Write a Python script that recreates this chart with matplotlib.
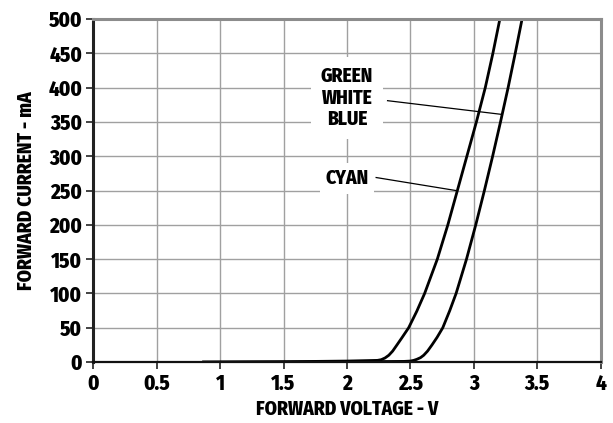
import matplotlib
matplotlib.use("Agg")
import matplotlib.pyplot as plt

plt.rcParams['font.family'] = ['Fira Sans Condensed', 'PT Sans Narrow', 'Roboto Condensed',
                               'Liberation Sans Narrow', 'DejaVu Sans']
plt.rcParams['font.weight'] = 'heavy'

# curves
cyan_v = [0.87, 1.5, 2.0, 2.24, 2.27, 2.30, 2.33, 2.36, 2.394, 2.435, 2.486, 2.55, 2.612, 2.712,
          2.795, 2.87, 2.945, 3.02, 3.09, 3.15, 3.205]
cyan_i = [0, 0.5, 1.5, 2.5, 3.5, 6, 10, 16, 25, 36, 50, 74, 100, 150,
          200, 250, 300, 350, 400, 450, 500]
gwb_v = [0.87, 2.0, 2.45, 2.50, 2.526, 2.55, 2.58, 2.605, 2.635, 2.67, 2.71, 2.755, 2.81, 2.86,
         2.942, 3.015, 3.083, 3.148, 3.21, 3.27, 3.326, 3.38]
gwb_i = [0, 0.5, 1, 1.5, 2.5, 4, 6.5, 10, 16, 25, 36, 50, 75, 100,
         150, 200, 250, 300, 350, 400, 450, 500]

x_ticks = [0, 0.5, 1, 1.5, 2, 2.5, 3, 3.5, 4]
x_labels = ['0', '0.5', '1', '1.5', '2', '2.5', '3', '3.5', '4']
y_ticks = list(range(0, 501, 50))

fig = plt.figure(figsize=(6.13, 4.23), dpi=100)
ax = fig.add_axes([0.152, 0.144, 0.828, 0.811])

ax.plot(cyan_v, cyan_i, color='black', lw=2.0, solid_joinstyle='round')
ax.plot(gwb_v, gwb_i, color='black', lw=2.0, solid_joinstyle='round')

ax.set_xlim(0, 4)
ax.set_ylim(0, 500)
ax.set_xticks(x_ticks)
ax.set_xticklabels(x_labels)
ax.set_yticks(y_ticks)
ax.grid(True, color='#a0a0a0', lw=1.0)
ax.set_axisbelow(True)

for side in ['top', 'right']:
    ax.spines[side].set_color('#8c8c8c')
    ax.spines[side].set_linewidth(2.2)
ax.spines['left'].set_color('#222222')
ax.spines['left'].set_linewidth(2.2)
ax.spines['bottom'].set_color('#111111')
ax.spines['bottom'].set_linewidth(1.6)

ax.tick_params(axis='both', direction='out', length=5, width=1.2, color='#222222',
               labelsize=15, pad=3)
for lbl in ax.get_xticklabels() + ax.get_yticklabels():
    lbl.set_fontweight('heavy')

ax.set_xlabel('FORWARD VOLTAGE - V', fontsize=14, fontweight='heavy', labelpad=4)
ax.set_ylabel('FORWARD CURRENT - mA', fontsize=14, fontweight='heavy', labelpad=9)

# labels with leader lines
ax.plot([2.32, 3.22], [381, 361], color='black', lw=0.9)
ax.plot([2.23, 2.86], [269, 250], color='black', lw=0.9)
ax.text(2.0, 385, 'GREEN\nWHITE\nBLUE', ha='center', va='center', fontsize=14,
        fontweight='heavy', linespacing=1.15,
        bbox=dict(facecolor='white', edgecolor='none', pad=7))
ax.text(2.0, 268, 'CYAN', ha='center', va='center', fontsize=14, fontweight='heavy',
        bbox=dict(facecolor='white', edgecolor='none', pad=4))

fig.savefig('out.png', dpi=100, facecolor='white')
